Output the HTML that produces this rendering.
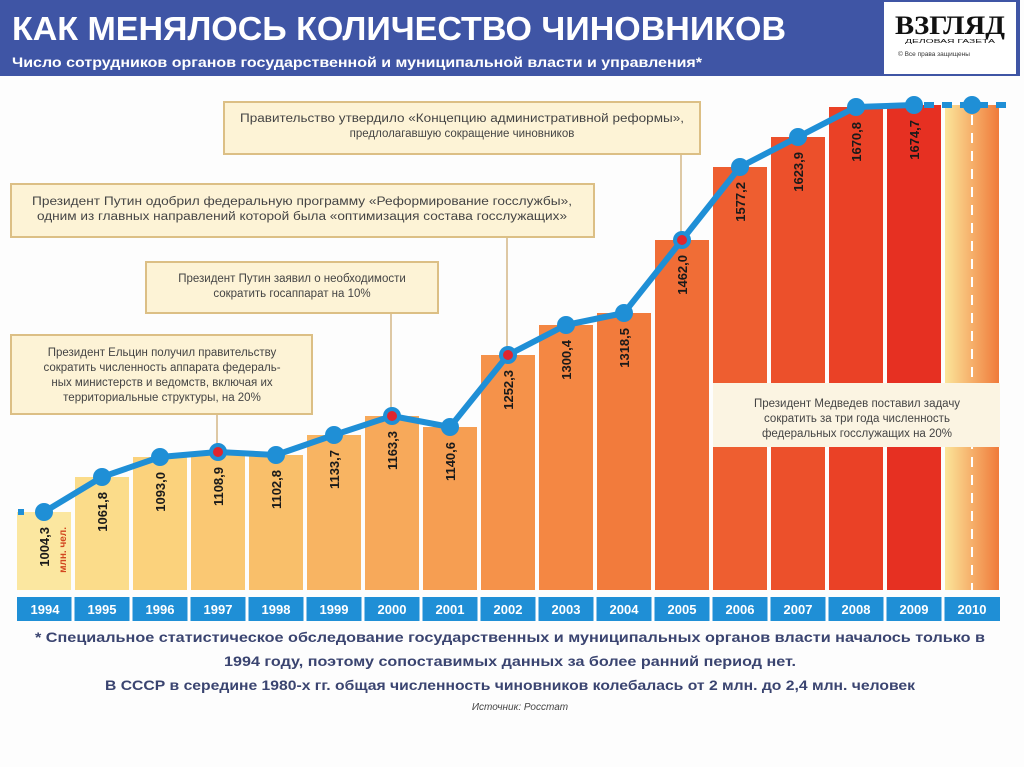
<!DOCTYPE html>
<html><head><meta charset="utf-8"><style>
html,body{margin:0;padding:0;background:#fff;}
svg{display:block;font-family:"Liberation Sans","DejaVu Sans",sans-serif;}
</style></head><body>
<svg width="1024" height="767" viewBox="0 0 1024 767" xmlns="http://www.w3.org/2000/svg">
<defs>
<linearGradient id="g10" x1="0" y1="0" x2="1" y2="0"><stop offset="0" stop-color="#fbe59a"/><stop offset="1" stop-color="#f07a3a"/></linearGradient>
</defs>
<rect x="0" y="0" width="1024" height="767" fill="#fdfdfd"/>
<rect x="0" y="0" width="1020" height="76" fill="#3f55a5"/>
<rect x="884" y="2" width="132" height="72" fill="#fff"/>
<text x="950" y="34" font-family="Liberation Serif,serif" font-weight="bold" font-size="26" text-anchor="middle" textLength="110" lengthAdjust="spacingAndGlyphs" fill="#111">ВЗГЛЯД</text>
<text x="950" y="43" font-size="5" text-anchor="middle" fill="#111" textLength="90" lengthAdjust="spacingAndGlyphs">ДЕЛОВАЯ ГАЗЕТА</text>
<text x="898" y="56" font-size="6.5" fill="#333">© Все права защищены</text>
<text x="12" y="40" font-size="33" font-weight="bold" fill="#fff" textLength="774" lengthAdjust="spacingAndGlyphs">КАК МЕНЯЛОСЬ КОЛИЧЕСТВО ЧИНОВНИКОВ</text>
<text x="12" y="67" font-size="14" font-weight="bold" fill="#fff" textLength="690" lengthAdjust="spacingAndGlyphs">Число сотрудников органов государственной и муниципальной власти и управления*</text>

<g>
<rect x="17" y="512" width="54" height="78" fill="#fbe7a0"/>
<rect x="75" y="477" width="54" height="113" fill="#fbdc8a"/>
<rect x="133" y="457" width="54" height="133" fill="#fbd27c"/>
<rect x="191" y="452" width="54" height="138" fill="#fac873"/>
<rect x="249" y="455" width="54" height="135" fill="#f9bf6a"/>
<rect x="307" y="435" width="54" height="155" fill="#f8b462"/>
<rect x="365" y="416" width="54" height="174" fill="#f7a95a"/>
<rect x="423" y="427" width="54" height="163" fill="#f69e52"/>
<rect x="481" y="355" width="54" height="235" fill="#f5924a"/>
<rect x="539" y="325" width="54" height="265" fill="#f48743"/>
<rect x="597" y="313" width="54" height="277" fill="#f27b3c"/>
<rect x="655" y="240" width="54" height="350" fill="#f06d36"/>
<rect x="713" y="167" width="54" height="423" fill="#ee5e30"/>
<rect x="771" y="137" width="54" height="453" fill="#ec502b"/>
<rect x="829" y="107" width="54" height="483" fill="#ea4126"/>
<rect x="887" y="105" width="54" height="485" fill="#e63022"/>
<rect x="945" y="105" width="54" height="485" fill="url(#g10)"/>
<line x1="972" y1="115" x2="972" y2="590" stroke="#fff" stroke-width="2" stroke-dasharray="10,8"/>
</g>

<g font-size="13" font-weight="bold" fill="#fff" text-anchor="middle">
<rect x="17" y="597" width="983" height="24" fill="#1f8fd6"/>
<g stroke="#fff" stroke-width="3">
<line x1="73" y1="597" x2="73" y2="621"/><line x1="131" y1="597" x2="131" y2="621"/><line x1="189" y1="597" x2="189" y2="621"/><line x1="247" y1="597" x2="247" y2="621"/><line x1="305" y1="597" x2="305" y2="621"/><line x1="363" y1="597" x2="363" y2="621"/><line x1="421" y1="597" x2="421" y2="621"/><line x1="479" y1="597" x2="479" y2="621"/><line x1="537" y1="597" x2="537" y2="621"/><line x1="595" y1="597" x2="595" y2="621"/><line x1="653" y1="597" x2="653" y2="621"/><line x1="711" y1="597" x2="711" y2="621"/><line x1="769" y1="597" x2="769" y2="621"/><line x1="827" y1="597" x2="827" y2="621"/><line x1="885" y1="597" x2="885" y2="621"/><line x1="943" y1="597" x2="943" y2="621"/>
</g>
<text x="45" y="614">1994</text><text x="102" y="614">1995</text><text x="160" y="614">1996</text><text x="218" y="614">1997</text><text x="276" y="614">1998</text><text x="334" y="614">1999</text><text x="392" y="614">2000</text><text x="450" y="614">2001</text><text x="508" y="614">2002</text><text x="566" y="614">2003</text><text x="624" y="614">2004</text><text x="682" y="614">2005</text><text x="740" y="614">2006</text><text x="798" y="614">2007</text><text x="856" y="614">2008</text><text x="914" y="614">2009</text><text x="972" y="614">2010</text>
</g>

<g stroke="#c9a66a" stroke-width="1.2" fill="none">
<line x1="681" y1="154" x2="681" y2="240"/>
<line x1="507" y1="237" x2="507" y2="355"/>
<line x1="391" y1="313" x2="391" y2="416"/>
<line x1="217" y1="414" x2="217" y2="452"/>
</g>
<g fill="#fdf3d6" stroke="#dcbf85" stroke-width="2">
<rect x="224" y="102" width="476" height="52"/>
<rect x="11" y="184" width="583" height="53"/>
<rect x="146" y="262" width="292" height="51"/>
<rect x="11" y="335" width="301" height="79"/>
</g>
<rect x="713" y="383" width="287" height="64" fill="#fbf4e2"/>
<g font-size="11.5" fill="#444" text-anchor="middle">
<text x="462" y="122" textLength="444" lengthAdjust="spacingAndGlyphs">Правительство утвердило «Концепцию административной реформы»,</text>
<text x="462" y="137">предлолагавшую сокращение чиновников</text>
<text x="302" y="205" textLength="540" lengthAdjust="spacingAndGlyphs">Президент Путин одобрил федеральную программу «Реформирование госслужбы»,</text>
<text x="302" y="220" textLength="530" lengthAdjust="spacingAndGlyphs">одним из главных направлений которой была «оптимизация состава госслужащих»</text>
<text x="292" y="282">Президент Путин заявил о необходимости</text>
<text x="292" y="297">сократить госаппарат на 10%</text>
<text x="162" y="356">Президент Ельцин получил правительству</text>
<text x="162" y="371">сократить численность аппарата федераль-</text>
<text x="162" y="386">ных министерств и ведомств, включая их</text>
<text x="162" y="401">территориальные структуры, на 20%</text>
<text x="857" y="407">Президент Медведев поставил задачу</text>
<text x="857" y="422">сократить за три года численность</text>
<text x="857" y="437">федеральных госслужащих на 20%</text>
</g>

<g stroke="#1f8fd6" stroke-width="6" fill="none" stroke-linecap="round" stroke-linejoin="round">
<line x1="18" y1="512" x2="30" y2="512" stroke-dasharray="6,6" stroke-linecap="butt"/>
<polyline points="44,512 102,477 160,457 218,452 276,455 334,435 392,416 450,427 508,355 566,325 624,313 682,240 740,167 798,137 856,107 914,105"/>
<line x1="924" y1="105" x2="1006" y2="105" stroke-dasharray="10,8" stroke-linecap="butt"/>
</g>
<g fill="#1f8fd6">
<circle cx="44" cy="512" r="9"/><circle cx="102" cy="477" r="9"/><circle cx="160" cy="457" r="9"/><circle cx="218" cy="452" r="9"/><circle cx="276" cy="455" r="9"/><circle cx="334" cy="435" r="9"/><circle cx="392" cy="416" r="9"/><circle cx="450" cy="427" r="9"/><circle cx="508" cy="355" r="9"/><circle cx="566" cy="325" r="9"/><circle cx="624" cy="313" r="9"/><circle cx="682" cy="240" r="9"/><circle cx="740" cy="167" r="9"/><circle cx="798" cy="137" r="9"/><circle cx="856" cy="107" r="9"/><circle cx="914" cy="105" r="9"/><circle cx="972" cy="105" r="9"/>
</g>
<g fill="#e0252e">
<circle cx="218" cy="452" r="5"/><circle cx="392" cy="416" r="5"/><circle cx="508" cy="355" r="5"/><circle cx="682" cy="240" r="5"/>
</g>

<g font-size="13" font-weight="bold" fill="#1a1a1a" text-anchor="end">
<text transform="translate(49,527) rotate(-90)">1004,3</text>
<text transform="translate(107,492) rotate(-90)">1061,8</text>
<text transform="translate(165,472) rotate(-90)">1093,0</text>
<text transform="translate(223,467) rotate(-90)">1108,9</text>
<text transform="translate(281,470) rotate(-90)">1102,8</text>
<text transform="translate(339,450) rotate(-90)">1133,7</text>
<text transform="translate(397,431) rotate(-90)">1163,3</text>
<text transform="translate(455,442) rotate(-90)">1140,6</text>
<text transform="translate(513,370) rotate(-90)">1252,3</text>
<text transform="translate(571,340) rotate(-90)">1300,4</text>
<text transform="translate(629,328) rotate(-90)">1318,5</text>
<text transform="translate(687,255) rotate(-90)">1462,0</text>
<text transform="translate(745,182) rotate(-90)">1577,2</text>
<text transform="translate(803,152) rotate(-90)">1623,9</text>
<text transform="translate(861,122) rotate(-90)">1670,8</text>
<text transform="translate(919,120) rotate(-90)">1674,7</text>
</g>
<text transform="translate(66,527) rotate(-90)" font-size="10" font-weight="bold" fill="#d2461f" text-anchor="end">млн. чел.</text>

<g font-size="14" font-weight="bold" fill="#3a4470" text-anchor="middle">
<text x="510" y="642" textLength="950" lengthAdjust="spacingAndGlyphs">* Специальное статистическое обследование государственных и муниципальных органов власти началось только в</text>
<text x="510" y="666" textLength="572" lengthAdjust="spacingAndGlyphs">1994 году, поэтому сопоставимых данных за более ранний период нет.</text>
<text x="510" y="690" textLength="810" lengthAdjust="spacingAndGlyphs">В СССР в середине 1980-х гг. общая численность чиновников колебалась от 2 млн. до 2,4 млн. человек</text>
</g>
<text x="520" y="710" font-size="10" font-style="italic" fill="#444" text-anchor="middle">Источник: Росстат</text>
</svg>
</body></html>
